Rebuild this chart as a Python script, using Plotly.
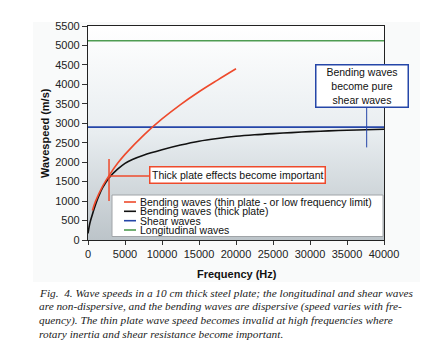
import plotly.graph_objects as go

# ---- data ----
freq_thin = [600, 1000, 2000, 3000, 4000, 5000, 7500, 10000, 12500, 15000, 17500, 20000]
speed_thin = [760, 985, 1390, 1700, 1970, 2200, 2690, 3110, 3480, 3810, 4110, 4400]

freq_thick = [0, 250, 500, 1000, 1500, 2000, 3000, 4000, 5000, 6000, 7500, 10000, 12500,
              15000, 17500, 20000, 22500, 25000, 27500, 30000, 32500, 35000, 37500, 40000]
speed_thick = [170, 430, 600, 900, 1150, 1350, 1630, 1820, 1970, 2070, 2180, 2320, 2440,
               2540, 2610, 2665, 2705, 2735, 2760, 2785, 2805, 2820, 2835, 2845]

freq_range = [0, 40000]
speed_range = [0, 5500]
shear_speed = 2900
long_speed = 5120

series_names = ["Bending waves (thin plate - or low frequency limit)",
                "Bending waves (thick plate)", "Shear waves", "Longitudinal waves"]
series_colors = ["#ee4a2c", "#111111", "#2546a8", "#4f9c52"]

cross_point = (2840, 1645)
cross_span = (1000, 2080)
cross_to_box = 8240
shear_note_freq = 37660
shear_note_span = (2380, 3446)

caption = [
    "Fig.  4. Wave speeds in a 10 cm thick steel plate; the longitudinal and shear waves",
    "are non-dispersive, and the bending waves are dispersive (speed varies with fre-",
    "quency). The thin plate wave speed becomes invalid at high frequencies where",
    "rotary inertia and shear resistance become important.",
]

FONT = "Arial, 'Liberation Sans', sans-serif"
SERIF = "'Liberation Serif', 'Times New Roman', serif"

W, H = 442, 360
L, R, T, B = 88, 58, 26, 120
PW, PH = W - L - R, H - T - B


def px(xp):
    return (xp - L) / PW


def py(yp):
    return (T + PH - yp) / PH


fig = go.Figure()

# gradient plot background
fig.add_trace(go.Scatter(
    x=[freq_range[0], freq_range[1], freq_range[1], freq_range[0], freq_range[0]],
    y=[speed_range[0], speed_range[0], speed_range[1], speed_range[1], speed_range[0]],
    mode="lines", fill="toself", line=dict(color="rgba(0,0,0,0)", width=0),
    fillgradient=dict(type="vertical",
                      colorscale=[[0, "#bcc4c9"], [0.5, "#e8edf0"], [1, "#ffffff"]]),
    hoverinfo="skip", showlegend=False))

fig.add_trace(go.Scatter(x=freq_range, y=[long_speed, long_speed], mode="lines",
                         line=dict(color=series_colors[3], width=1.6), showlegend=False))
fig.add_trace(go.Scatter(x=freq_range, y=[shear_speed, shear_speed], mode="lines",
                         line=dict(color=series_colors[2], width=1.6), showlegend=False))
fig.add_trace(go.Scatter(x=freq_thick, y=speed_thick, mode="lines",
                         line=dict(color=series_colors[1], width=1.6, shape="spline"),
                         showlegend=False))
fig.add_trace(go.Scatter(x=freq_thin, y=speed_thin, mode="lines",
                         line=dict(color=series_colors[0], width=1.6, shape="spline"),
                         showlegend=False))

shapes = []
# faint off-white chart area
shapes.append(dict(type="rect", xref="paper", yref="paper", layer="below",
                   x0=px(33), x1=px(420), y0=py(282), y1=py(22),
                   fillcolor="#f9fafa", line=dict(width=0)))
# red cross and connector
shapes.append(dict(type="line", xref="x", yref="y", x0=cross_point[0], x1=cross_point[0],
                   y0=cross_span[0], y1=cross_span[1], line=dict(color=series_colors[0], width=1.5)))
shapes.append(dict(type="line", xref="x", yref="y", x0=cross_point[0], x1=cross_to_box,
                   y0=cross_point[1], y1=cross_point[1], line=dict(color=series_colors[0], width=1.5)))
# blue connector
shapes.append(dict(type="line", xref="x", yref="y", x0=shear_note_freq, x1=shear_note_freq,
                   y0=shear_note_span[0], y1=shear_note_span[1],
                   line=dict(color=series_colors[2], width=1)))
# custom legend box
shapes.append(dict(type="rect", xref="paper", yref="paper",
                   x0=px(112), x1=px(383), y0=py(236.5), y1=py(195),
                   fillcolor="white", line=dict(color="#a0a4a8", width=1)))
legend_rows = [202, 211.3, 220.7, 230]
for yrow, col in zip(legend_rows, series_colors):
    shapes.append(dict(type="line", xref="paper", yref="paper",
                       x0=px(124), x1=px(136), y0=py(yrow), y1=py(yrow),
                       line=dict(color=col, width=1.6)))

annotations = []
for yrow, name in zip(legend_rows, series_names):
    annotations.append(dict(xref="paper", yref="paper", x=px(137.5), y=py(yrow),
                            xanchor="left", yanchor="middle", showarrow=False, text=name,
                            font=dict(family=FONT, size=10.5, color="#111")))

annotations.append(dict(xref="paper", yref="paper", x=px(149), y=py(175),
                        xanchor="left", yanchor="middle", showarrow=False,
                        text="Thick plate effects become important",
                        font=dict(family=FONT, size=10.5, color="#111"),
                        bgcolor="white", bordercolor=series_colors[0], borderwidth=1.5,
                        borderpad=1.5))
annotations.append(dict(xref="paper", yref="paper", x=px(362.2), y=py(86),
                        xanchor="center", yanchor="middle", showarrow=False,
                        text="Bending waves<br>become pure<br>shear waves",
                        width=88, height=38, align="center",
                        font=dict(family=FONT, size=10.5, color="#111"),
                        bgcolor="white", bordercolor=series_colors[2], borderwidth=1.5,
                        borderpad=1.5))

# axis titles
annotations.append(dict(xref="paper", yref="paper", x=px(237), y=py(274),
                        xanchor="center", yanchor="middle", showarrow=False,
                        text="<b>Frequency (Hz)</b>",
                        font=dict(family=FONT, size=11, color="#111")))
annotations.append(dict(xref="paper", yref="paper", x=px(45), y=py(133),
                        xanchor="center", yanchor="middle", showarrow=False, textangle=-90,
                        text="<b>Wavespeed (m/s)</b>",
                        font=dict(family=FONT, size=11, color="#111")))

# caption
cap_rows = [292.7, 306.4, 320.1, 333.8]
for yrow, line in zip(cap_rows, caption):
    annotations.append(dict(xref="paper", yref="paper", x=px(36.5), y=py(yrow),
                            xanchor="left", yanchor="middle", showarrow=False,
                            text="<i>" + line + "</i>",
                            font=dict(family=SERIF, size=11.3, color="#222")))

fig.update_layout(
    width=W, height=H,
    margin=dict(l=L, r=R, t=T, b=B),
    paper_bgcolor="white", plot_bgcolor="white",
    font=dict(family=FONT, size=11, color="#222"),
    showlegend=False,
    shapes=shapes, annotations=annotations,
    xaxis=dict(range=freq_range, dtick=5000, tick0=0, tickformat="d", ticks="outside", ticklen=4,
               tickcolor="#333", showline=True, linecolor="#222", linewidth=1.2, mirror=True,
               showgrid=False, zeroline=False, tickfont=dict(size=11, color="#222")),
    yaxis=dict(range=speed_range, dtick=500, tick0=0, tickformat="d", ticks="outside", ticklen=5,
               tickcolor="#333", showline=True, linecolor="#222", linewidth=1.2, mirror=True,
               showgrid=False, zeroline=False, tickfont=dict(size=11, color="#222")),
)

fig.write_html("out.html", config={"displayModeBar": False},
               post_script="document.body.style.margin='0';document.body.style.padding='0';")
